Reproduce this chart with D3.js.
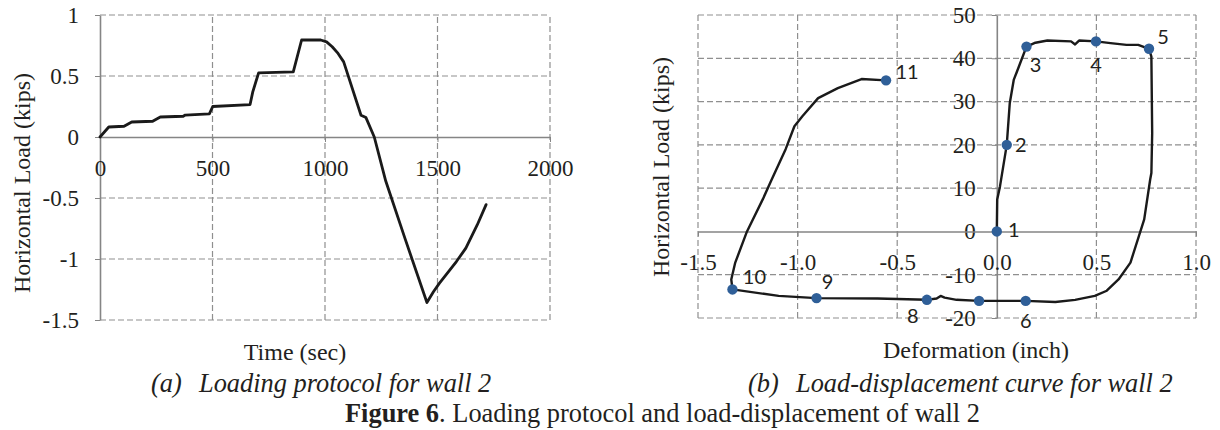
<!DOCTYPE html>
<html>
<head>
<meta charset="utf-8">
<script src="https://cdn.jsdelivr.net/npm/d3@7"></script>
<style>
  body { margin: 0; background: #fff; }
  .grid { stroke: #8f8f8f; stroke-width: 1.2; stroke-dasharray: 6,3; }
  .curve { fill: none; stroke: #1a1a1a; stroke-linejoin: round; stroke-linecap: round; }
</style>
</head>
<body>
<div id="chart"></div>
<script>
// (a) loading protocol for wall 2
var timeSec = [0, 39, 107, 141, 234, 268, 370, 379, 486, 501, 667, 679, 705, 859, 896, 981,
               1007, 1032, 1058, 1083, 1160, 1182, 1219, 1270, 1355, 1453, 1482, 1508, 1584, 1626, 1677, 1716];
var loadA = [0, 0.082, 0.088, 0.123, 0.129, 0.164, 0.17, 0.18, 0.19, 0.25, 0.266, 0.37, 0.526, 0.534, 0.795, 0.795,
             0.78, 0.74, 0.685, 0.616, 0.178, 0.159, 0, -0.361, -0.829, -1.357, -1.269, -1.2, -1.021, -0.911, -0.719, -0.554];
var timeTicks = [0, 500, 1000, 1500, 2000];
var loadATicks = [1, 0.5, 0, -0.5, -1, -1.5];

// (b) load-displacement curve for wall 2
var deform = [0, 0.002, 0.016, 0.05, 0.065, 0.085, 0.111, 0.149, 0.194, 0.254, 0.373, 0.393, 0.413, 0.498, 0.571, 0.651, 0.71, 0.764,
              0.776, 0.78, 0.776, 0.77, 0.74, 0.671, 0.611, 0.552, 0.492, 0.393, 0.294, 0.145, 0, -0.089, -0.202, -0.262, -0.282, -0.302,
              -0.351, -0.599, -0.905, -1.095, -1.327, -1.333, -1.313, -1.254, -1.175, -1.13, -1.06, -1.016, -0.976, -0.897, -0.798, -0.679, -0.556];
var loadB = [0, 7.4, 10.4, 20, 29.6, 35, 38.1, 42.7, 43.6, 44.1, 43.9, 43.2, 44.1, 43.9, 43.5, 43.1, 43.1, 42.2,
             40.4, 22.7, 13.5, 12, 2.8, -7.2, -11.1, -13.7, -14.9, -15.8, -16.3, -16.05, -16.05, -16.05, -15.8, -15.3, -14.9, -15.5,
             -15.8, -15.5, -15.4, -14.9, -13.4, -11.1, -7.2, 0, 7.4, 12, 19, 24.3, 26.6, 30.8, 33.1, 35.2, 34.9];
var pointDeform = [0, 0.05, 0.149, 0.498, 0.764, 0.145, -0.089, -0.351, -0.905, -1.327, -0.556];
var pointLoad = [0, 20, 42.7, 43.9, 42.2, -16.05, -16.05, -15.8, -15.4, -13.4, 34.9];
var pointLabels = ["1", "2", "3", "4", "5", "6", "", "8", "9", "10", "11"];
var deformTicks = [-1.5, -1, -0.5, 0, 0.5, 1];
var loadBTicks = [50, 40, 30, 20, 10, 0, -10, -20];

// label placement next to each point (dx, dy from the marker)
var labelOffsets = [[17, -2], [14, 0], [9, 18], [0, 23], [14, -12], [0, 20], [0, 0], [-14, 16], [11, -16], [22, -13], [21, -9]];

var SERIF = '"Liberation Serif", "Times New Roman", Times, serif';
var SANS = 'Lato, "Open Sans", "Liberation Sans", sans-serif';

var svg = d3.select("#chart").append("svg")
    .attr("width", 1220)
    .attr("height", 430);

function drawPanel(xs, ys, xTicks, yTicks, xFmt, yFmt) {
  var g = svg.append("g");
  var x0 = xs.range(), y0 = ys.range();

  // dashed grid
  g.selectAll(".gx").data(xTicks.filter(function(d) { return d !== 0; })).enter()
    .append("line").attr("class", "grid")
    .attr("x1", xs).attr("x2", xs).attr("y1", y0[0]).attr("y2", y0[1]);
  g.selectAll(".gy").data(yTicks.filter(function(d) { return d !== 0; })).enter()
    .append("line").attr("class", "grid")
    .attr("y1", ys).attr("y2", ys).attr("x1", x0[0]).attr("x2", x0[1]);

  // y axis through x = 0
  var ya = g.append("g")
      .attr("transform", "translate(" + xs(0) + ",0)")
      .attr("color", "#858585")
      .call(d3.axisLeft(ys).tickValues(yTicks).tickSize(5).tickSizeOuter(0).tickPadding(16).tickFormat(yFmt));
  ya.select(".domain").attr("stroke-width", 1.6);

  // x axis through y = 0
  var xa = g.append("g")
      .attr("transform", "translate(0," + ys(0) + ")")
      .attr("color", "#858585")
      .call(d3.axisBottom(xs).tickValues(xTicks).tickSize(5).tickSizeOuter(0).tickFormat(xFmt));
  xa.select(".domain").attr("stroke-width", 1.6);
  xa.selectAll("text").attr("y", 31).attr("dy", "0.35em");

  g.selectAll(".tick text")
      .attr("font-family", null).attr("font-size", null)
      .style("font-family", SERIF).style("font-size", "23px").style("fill", "#231f20");
  return g;
}

// ---- panel (a)
var xA = d3.scaleLinear().domain([0, 2000]).range([100, 550]);
var yA = d3.scaleLinear().domain([-1.5, 1]).range([320, 15]);
var gA = drawPanel(xA, yA, timeTicks, loadATicks, function(d) { return String(d); }, function(d) { return String(d); });

var lineA = d3.line()
    .x(function(d, i) { return xA(timeSec[i]); })
    .y(function(d) { return yA(d); });
gA.append("path").datum(loadA).attr("class", "curve").attr("stroke-width", 2.8).attr("d", lineA);

// ---- panel (b)
var xB = d3.scaleLinear().domain([-1.5, 1]).range([698, 1196]);
var yB = d3.scaleLinear().domain([-20, 50]).range([318, 15]);
var gB = drawPanel(xB, yB, deformTicks, loadBTicks, function(d) { return d.toFixed(1); }, function(d) { return String(d); });

var lineB = d3.line()
    .x(function(d, i) { return xB(deform[i]); })
    .y(function(d) { return yB(d); });
gB.append("path").datum(loadB).attr("class", "curve").attr("stroke-width", 2.4).attr("d", lineB);

gB.selectAll(".pt").data(pointLoad).enter().append("circle")
    .attr("cx", function(d, i) { return xB(pointDeform[i]); })
    .attr("cy", function(d) { return yB(d); })
    .attr("r", 5.2)
    .attr("fill", "#2f5f98");

gB.selectAll(".ptlabel").data(pointLabels).enter().append("text")
    .attr("text-anchor", "middle")
    .attr("dy", "0.36em")
    .attr("x", function(d, i) { return xB(pointDeform[i]) + labelOffsets[i][0]; })
    .attr("y", function(d, i) { return yB(pointLoad[i]) + labelOffsets[i][1]; })
    .style("font-family", SANS).style("font-size", "20px").style("fill", "#231f20")
    .text(function(d) { return d; });

// ---- titles and captions
function addText(x, y, txt, size, extra) {
  var t = svg.append("text").attr("x", x).attr("y", y).attr("dy", "0.35em")
      .style("font-family", SERIF).style("font-size", size + "px").style("fill", "#231f20")
      .text(txt);
  if (extra) extra(t);
  return t;
}
addText(22, 183, "Horizontal Load (kips)", 24, function(t) {
  t.attr("text-anchor", "middle").attr("transform", "rotate(-90,22,183)");
});
addText(661, 167, "Horizontal Load (kips)", 24, function(t) {
  t.attr("text-anchor", "middle").attr("transform", "rotate(-90,661,167)");
});
addText(295, 352, "Time (sec)", 24, function(t) { t.attr("text-anchor", "middle"); });
addText(976, 350, "Deformation (inch)", 24, function(t) { t.attr("text-anchor", "middle"); });

addText(151, 383, "(a)", 26.4, function(t) { t.style("font-style", "italic"); });
addText(199, 383, "Loading protocol for wall 2", 26.4, function(t) { t.style("font-style", "italic"); });
addText(748, 383, "(b)", 26.4, function(t) { t.style("font-style", "italic"); });
addText(796, 383, "Load-displacement curve for wall 2", 26.4, function(t) { t.style("font-style", "italic"); });

var fig = addText(345, 413, "", 26.4);
fig.append("tspan").style("font-weight", "bold").text("Figure 6");
fig.append("tspan").text(". Loading protocol and load-displacement of wall 2");
</script>
</body>
</html>
